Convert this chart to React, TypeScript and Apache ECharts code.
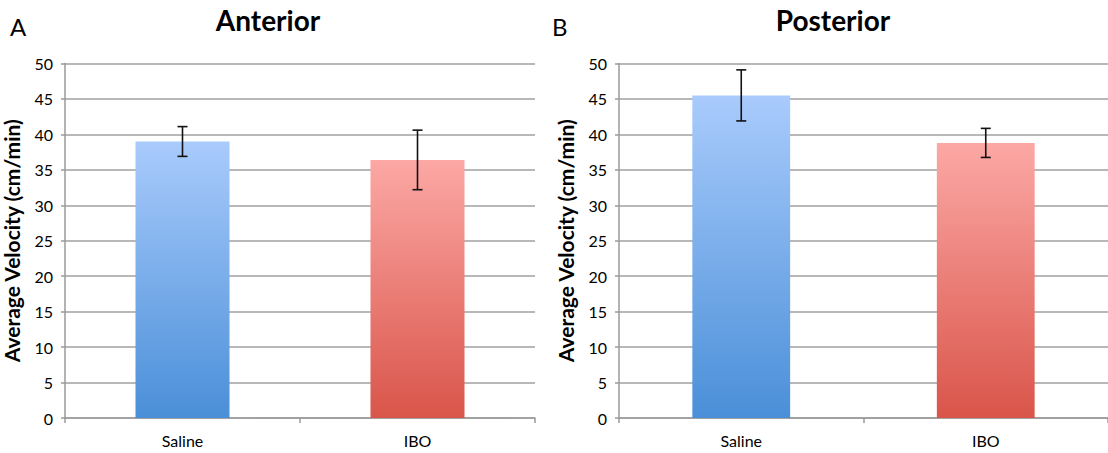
import React, { useEffect, useRef } from "react";
import * as echarts from "echarts";

const categories = ["Saline", "IBO"];
const anteriorMeans = [39.0, 36.4];
const anteriorErrors = [2.1, 4.2];
const posteriorMeans = [45.5, 38.8];
const posteriorErrors = [3.6, 2.05];
const panelTitles = ["Anterior", "Posterior"];
const panelLetters = ["A", "B"];
const yAxisName = "Average Velocity (cm/min)";

const FONT = "Lato, 'Open Sans', sans-serif";

const blueGrad = () =>
  new echarts.graphic.LinearGradient(0, 0, 0, 1, [
    { offset: 0, color: "#a9cbfc" },
    { offset: 1, color: "#4a8fd8" },
  ]);
const redGrad = () =>
  new echarts.graphic.LinearGradient(0, 0, 0, 1, [
    { offset: 0, color: "#fca8a5" },
    { offset: 1, color: "#d9554a" },
  ]);

export default function App() {
  const ref = useRef<HTMLDivElement>(null);
  useEffect(() => {
    document.body.style.margin = "0";
    const chart = echarts.init(ref.current!, null, { renderer: "svg" });
    const grids = [
      { left: 65, top: 63.5, width: 470, height: 354.5 },
      { left: 619, top: 63.5, width: 492, height: 354.5 },
    ];
    const means = [anteriorMeans, posteriorMeans];
    const errs = [anteriorErrors, posteriorErrors];

    const xAxes = grids.map((_, i) => ({
      type: "category",
      gridIndex: i,
      data: categories,
      boundaryGap: true,
      axisLine: { show: true, lineStyle: { color: "#9a9a9a", width: 1.5 } },
      axisTick: { show: true, length: 5, lineStyle: { color: "#9a9a9a", width: 1.5 } },
      axisLabel: { color: "#000", fontSize: 16, fontFamily: FONT, margin: 14 },
      splitLine: { show: false },
    }));
    const yAxes = grids.map((_, i) => ({
      type: "value",
      gridIndex: i,
      min: 0,
      max: 50,
      interval: 5,
      name: yAxisName,
      nameLocation: "middle",
      nameGap: 43,
      nameRotate: 90,
      nameTextStyle: { color: "#000", fontSize: 21, fontWeight: "bold", fontFamily: FONT },
      axisLine: { show: true, lineStyle: { color: "#9a9a9a", width: 1.5 } },
      axisTick: { show: true, length: 4, lineStyle: { color: "#9a9a9a", width: 1.5 } },
      axisLabel: { color: "#000", fontSize: 16, fontFamily: FONT, margin: 12 },
      splitLine: { show: true, lineStyle: { color: "#a0a0a0", width: 1.5 } },
    }));

    const series: any[] = [];
    grids.forEach((_, i) => {
      series.push({
        type: "bar",
        xAxisIndex: i,
        yAxisIndex: i,
        barWidth: "40%",
        data: means[i].map((v, j) => ({
          value: v,
          itemStyle: { color: j === 0 ? blueGrad() : redGrad() },
        })),
      });
      series.push({
        type: "custom",
        xAxisIndex: i,
        yAxisIndex: i,
        data: means[i].map((v, j) => [j, v - errs[i][j], v + errs[i][j]]),
        renderItem: (params: any, api: any) => {
          const x = api.value(0);
          const lo = api.coord([x, api.value(1)]);
          const hi = api.coord([x, api.value(2)]);
          const hw = 5;
          const style = { stroke: "#111", lineWidth: 1.6, fill: "none" };
          return {
            type: "group",
            children: [
              { type: "line", shape: { x1: lo[0], y1: lo[1], x2: hi[0], y2: hi[1] }, style },
              { type: "line", shape: { x1: hi[0] - hw, y1: hi[1], x2: hi[0] + hw, y2: hi[1] }, style },
              { type: "line", shape: { x1: lo[0] - hw, y1: lo[1], x2: lo[0] + hw, y2: lo[1] }, style },
            ],
          };
        },
        z: 5,
      });
    });

    chart.setOption({
      animation: false,
      backgroundColor: "#fff",
      grid: grids,
      xAxis: xAxes,
      yAxis: yAxes,
      series,
      graphic: [
        { type: "text", x: 268, y: 20, style: { text: panelTitles[0], font: `bold 28px ${FONT}`, fill: "#000", textAlign: "center", textVerticalAlign: "middle" } },
        { type: "text", x: 833, y: 20, style: { text: panelTitles[1], font: `bold 28px ${FONT}`, fill: "#000", textAlign: "center", textVerticalAlign: "middle" } },
        { type: "text", x: 10, y: 26, style: { text: panelLetters[0], font: `24px ${FONT}`, fill: "#000", textVerticalAlign: "middle" } },
        { type: "text", x: 552, y: 26, style: { text: panelLetters[1], font: `24px ${FONT}`, fill: "#000", textVerticalAlign: "middle" } },
      ],
    });
    return () => chart.dispose();
  }, []);
  return (
    <div
      ref={ref}
      style={{ position: "absolute", left: 0, top: 0, width: 1108, height: 453 }}
    />
  );
}
